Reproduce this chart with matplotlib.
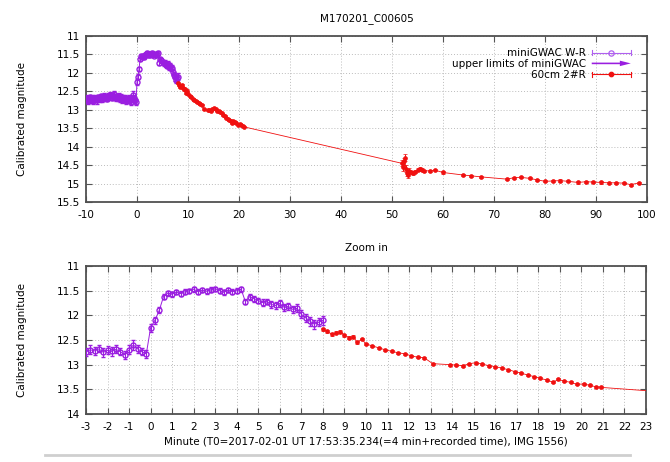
import matplotlib
matplotlib.use('Agg')
import matplotlib.pyplot as plt
import numpy as np
from matplotlib.lines import Line2D
from matplotlib.patches import FancyArrow
from matplotlib.legend_handler import HandlerBase

plt.rcParams['font.family'] = ['DejaVu Sans']

# ---------------- data ----------------
gwac_t = [-10.0, -9.8, -9.6, -9.4, -9.2, -9.0, -8.8, -8.6, -8.4, -8.2,
          -8.0, -7.8, -7.6, -7.4, -7.2, -7.0, -6.8, -6.6, -6.4, -6.2,
          -6.0, -5.8, -5.6, -5.4, -5.2, -5.0, -4.8, -4.6, -4.4, -4.2,
          -4.0, -3.8, -3.6, -3.4, -3.2, -3.0, -2.8, -2.6, -2.4, -2.2,
          -2.0, -1.8, -1.6, -1.4, -1.2, -1.0, -0.8, -0.6, -0.4, -0.2,
          0.0, 0.2, 0.4, 0.6, 0.8, 1.0, 1.2, 1.4, 1.6, 1.8,
          2.0, 2.2, 2.4, 2.6, 2.8, 3.0, 3.2, 3.4, 3.6, 3.8,
          4.0, 4.2, 4.4, 4.6, 4.8, 5.0, 5.2, 5.4, 5.6, 5.8,
          6.0, 6.2, 6.4, 6.6, 6.8, 7.0, 7.2, 7.4, 7.6, 7.8, 8.0]
gwac_mag = [12.72, 12.68, 12.75, 12.70, 12.66, 12.73, 12.69, 12.77, 12.71, 12.67,
            12.70, 12.74, 12.66, 12.69, 12.72, 12.64, 12.70, 12.67, 12.62, 12.68,
            12.65, 12.70, 12.63, 12.66, 12.60, 12.67, 12.62, 12.58, 12.65, 12.69,
            12.64, 12.68, 12.62, 12.70, 12.66, 12.74, 12.70, 12.72, 12.68, 12.75,
            12.71, 12.73, 12.69, 12.74, 12.80, 12.70, 12.60, 12.68, 12.74, 12.78,
            12.25, 12.10, 11.90, 11.62, 11.55, 11.57, 11.53, 11.56, 11.52, 11.50,
            11.47, 11.52, 11.49, 11.51, 11.48, 11.46, 11.50, 11.53, 11.49, 11.52,
            11.50, 11.47, 11.72, 11.62, 11.66, 11.70, 11.74, 11.72, 11.78, 11.80,
            11.76, 11.84, 11.82, 11.88, 11.86, 11.98, 12.05, 12.12, 12.18, 12.14, 12.10]
gwac_err = [0.08, 0.07, 0.09, 0.08, 0.07, 0.08, 0.09, 0.08, 0.07, 0.08,
            0.08, 0.09, 0.07, 0.08, 0.08, 0.07, 0.09, 0.08, 0.08, 0.07,
            0.08, 0.07, 0.09, 0.08, 0.08, 0.07, 0.08, 0.09, 0.08, 0.07,
            0.08, 0.08, 0.07, 0.09, 0.08, 0.08, 0.09, 0.08, 0.07, 0.09,
            0.08, 0.09, 0.08, 0.07, 0.08, 0.09, 0.10, 0.08, 0.07, 0.08,
            0.08, 0.07, 0.06, 0.05, 0.05, 0.05, 0.04, 0.05, 0.05, 0.04,
            0.05, 0.05, 0.04, 0.05, 0.05, 0.04, 0.05, 0.05, 0.04, 0.05,
            0.05, 0.05, 0.06, 0.06, 0.06, 0.06, 0.07, 0.06, 0.07, 0.07,
            0.07, 0.07, 0.08, 0.07, 0.08, 0.08, 0.08, 0.09, 0.09, 0.08, 0.09]

r60_t = [8.0, 8.2, 8.4, 8.6, 8.8, 9.0, 9.2, 9.4, 9.6, 9.8,
         10.0, 10.3, 10.6, 10.9, 11.2, 11.5, 11.8, 12.1, 12.4, 12.7,
         13.1, 13.9, 14.2, 14.5, 14.8, 15.1, 15.4, 15.7, 16.0, 16.3,
         16.6, 16.9, 17.2, 17.5, 17.8, 18.1, 18.4, 18.7, 18.9, 19.2,
         19.5, 19.8, 20.1, 20.4, 20.7, 20.9,
         51.9, 52.1, 52.3, 52.5, 52.7, 52.9, 53.1, 53.4, 53.7, 54.1,
         54.6, 55.0, 55.4, 55.8, 56.3, 57.5, 58.5, 60.0, 64.0, 65.5,
         67.5, 72.5, 74.0, 75.2, 77.0, 78.5, 80.0, 81.5, 83.0, 84.5,
         86.5, 88.0, 89.5, 91.0, 92.5, 94.0, 95.5, 96.8, 98.5]
r60_mag = [12.28, 12.32, 12.38, 12.35, 12.33, 12.40, 12.45, 12.43, 12.55, 12.48,
           12.58, 12.62, 12.66, 12.70, 12.73, 12.76, 12.78, 12.82, 12.85, 12.86,
           12.98, 13.00, 13.01, 13.02, 12.98, 12.96, 12.99, 13.02, 13.04, 13.07,
           13.10, 13.14, 13.17, 13.21, 13.24, 13.28, 13.31, 13.36, 13.30, 13.33,
           13.36, 13.40, 13.39, 13.42, 13.45, 13.46,
           14.45, 14.55, 14.40, 14.30, 14.60, 14.72, 14.78, 14.65, 14.70, 14.72,
           14.68, 14.62, 14.60, 14.63, 14.65, 14.66, 14.64, 14.70, 14.77, 14.79,
           14.82, 14.88, 14.84, 14.83, 14.86, 14.90, 14.94, 14.93, 14.92, 14.94,
           14.97, 14.95, 14.96, 14.97, 14.98, 14.98, 14.99, 15.03, 14.98]
r60_err = [0.03, 0.03, 0.03, 0.03, 0.03, 0.03, 0.03, 0.03, 0.03, 0.03,
           0.02, 0.02, 0.02, 0.02, 0.02, 0.02, 0.02, 0.02, 0.02, 0.02,
           0.02, 0.02, 0.02, 0.02, 0.02, 0.02, 0.02, 0.02, 0.02, 0.02,
           0.02, 0.02, 0.02, 0.02, 0.02, 0.02, 0.02, 0.02, 0.02, 0.02,
           0.02, 0.02, 0.02, 0.02, 0.02, 0.02,
           0.08, 0.10, 0.09, 0.10, 0.09, 0.08, 0.07, 0.06, 0.05, 0.05,
           0.04, 0.04, 0.04, 0.04, 0.03, 0.03, 0.03, 0.03, 0.03, 0.03,
           0.03, 0.03, 0.03, 0.03, 0.03, 0.03, 0.03, 0.03, 0.03, 0.03,
           0.03, 0.03, 0.03, 0.03, 0.03, 0.03, 0.03, 0.03, 0.03]

top_xticks = [-10, 0, 10, 20, 30, 40, 50, 60, 70, 80, 90, 100]
top_yticks = [11, 11.5, 12, 12.5, 13, 13.5, 14, 14.5, 15, 15.5]
bot_xticks = [-3, -2, -1, 0, 1, 2, 3, 4, 5, 6, 7, 8, 9, 10, 11, 12, 13, 14,
              15, 16, 17, 18, 19, 20, 21, 22, 23]
bot_yticks = [11, 11.5, 12, 12.5, 13, 13.5, 14]

legend_labels = ['miniGWAC W-R', 'upper limits of miniGWAC', '60cm 2#R']
top_title = 'M170201_C00605'
bot_title = 'Zoom in'
ylabel = 'Calibrated magnitude'
xlabel = 'Minute (T0=2017-02-01 UT 17:53:35.234(=4 min+recorded time), IMG 1556)'

PURPLE = '#9a1ee0'
RED = '#f01010'
FS = 7.5

# ---------------- figure ----------------
W, H = 670, 462
fig = plt.figure(figsize=(W / 100, H / 100), dpi=100)
ax1 = fig.add_axes([86 / W, 1 - 202 / H, 561 / W, 166 / H])
ax2 = fig.add_axes([86 / W, 1 - 414 / H, 560 / W, 148 / H])


def draw(ax):
    ax.errorbar(gwac_t, gwac_mag, yerr=gwac_err, fmt='-o', color=PURPLE, ms=3.6,
                mfc='none', mew=1.0, lw=0.7, elinewidth=0.8, capsize=1.6,
                capthick=0.8, zorder=3)
    ax.errorbar(r60_t, r60_mag, yerr=r60_err, fmt='-o', color=RED, ms=2.8,
                mew=0.5, lw=0.6, elinewidth=0.7, capsize=1.3, capthick=0.7,
                zorder=4)


def style(ax, xt, yt, xlim, ylim):
    ax.set_xticks(xt)
    ax.set_yticks(yt)
    ax.set_xticklabels([f'{v:g}' for v in xt])
    ax.set_yticklabels([f'{v:g}' for v in yt])
    ax.set_xlim(*xlim)
    ax.set_ylim(*ylim)
    ax.grid(True, color='#bcbcbc', ls=(0, (1, 2)), lw=0.7)
    ax.set_axisbelow(True)
    ax.tick_params(direction='in', length=4, width=0.8, color='#555555',
                   top=True, right=True, labelsize=FS, pad=4)
    ax.tick_params(axis='x', pad=6)
    for s in ax.spines.values():
        s.set_color('#505050')
        s.set_linewidth(1.3)
    ax.set_ylabel(ylabel, fontsize=FS)
    ax.yaxis.set_label_coords(-0.105, 0.5)


draw(ax1)
draw(ax2)
style(ax1, top_xticks, top_yticks, (-10, 100), (15.5, 11))
style(ax2, bot_xticks, bot_yticks, (-3, 23), (14, 11))
ax1.set_title(top_title, fontsize=FS, pad=11)
ax2.set_title(bot_title, fontsize=FS, pad=11)
ax2.set_xlabel(xlabel, fontsize=FS, labelpad=3)


class ErrSampleHandler(HandlerBase):
    def __init__(self, color, mfc, ms):
        super().__init__()
        self.color, self.mfc, self.ms = color, mfc, ms

    def create_artists(self, legend, orig_handle, xdescent, ydescent, width,
                       height, fontsize, trans):
        y = height / 2 - ydescent
        x0 = -xdescent
        x1 = x0 + width
        h = height * 0.35
        line = Line2D([x0, x1], [y, y], color=self.color, lw=0.8)
        caps = Line2D([x0, x0, np.nan, x1, x1], [y - h, y + h, np.nan, y - h, y + h],
                      color=self.color, lw=0.8)
        mk = Line2D([(x0 + x1) / 2], [y], marker='o', ms=self.ms, color=self.color,
                    mfc=self.mfc, mew=0.9, ls='none')
        for a in (line, caps, mk):
            a.set_transform(trans)
        return [line, caps, mk]


class ArrowHandler(HandlerBase):
    def create_artists(self, legend, orig_handle, xdescent, ydescent, width,
                       height, fontsize, trans):
        y = height / 2 - ydescent
        x0 = -xdescent
        arr = FancyArrow(x0, y, width, 0, width=height * 0.22,
                         head_width=height * 0.75, head_length=width * 0.28,
                         length_includes_head=True, color=PURPLE, lw=0,
                         transform=trans)
        return [arr]


h1 = Line2D([], [])
h2 = Line2D([], [])
h3 = Line2D([], [])
ax1.legend(handles=[h1, h2, h3], labels=legend_labels,
           handler_map={h1: ErrSampleHandler('#b060f0', 'none', 3.8),
                        h2: ArrowHandler(),
                        h3: ErrSampleHandler(RED, RED, 3.2)},
           loc='upper right', bbox_to_anchor=(1 - 11 / 561, 1 - 7 / 166),
           frameon=False, markerfirst=False, handlelength=3.75,
           handletextpad=0.55, labelspacing=0.08, borderpad=0, fontsize=FS)

fig.add_artist(Line2D([45 / W, 630 / W], [1 - 455 / H, 1 - 455 / H],
                      color='#cfcfcf', lw=2))

fig.savefig('out.png', dpi=100)
